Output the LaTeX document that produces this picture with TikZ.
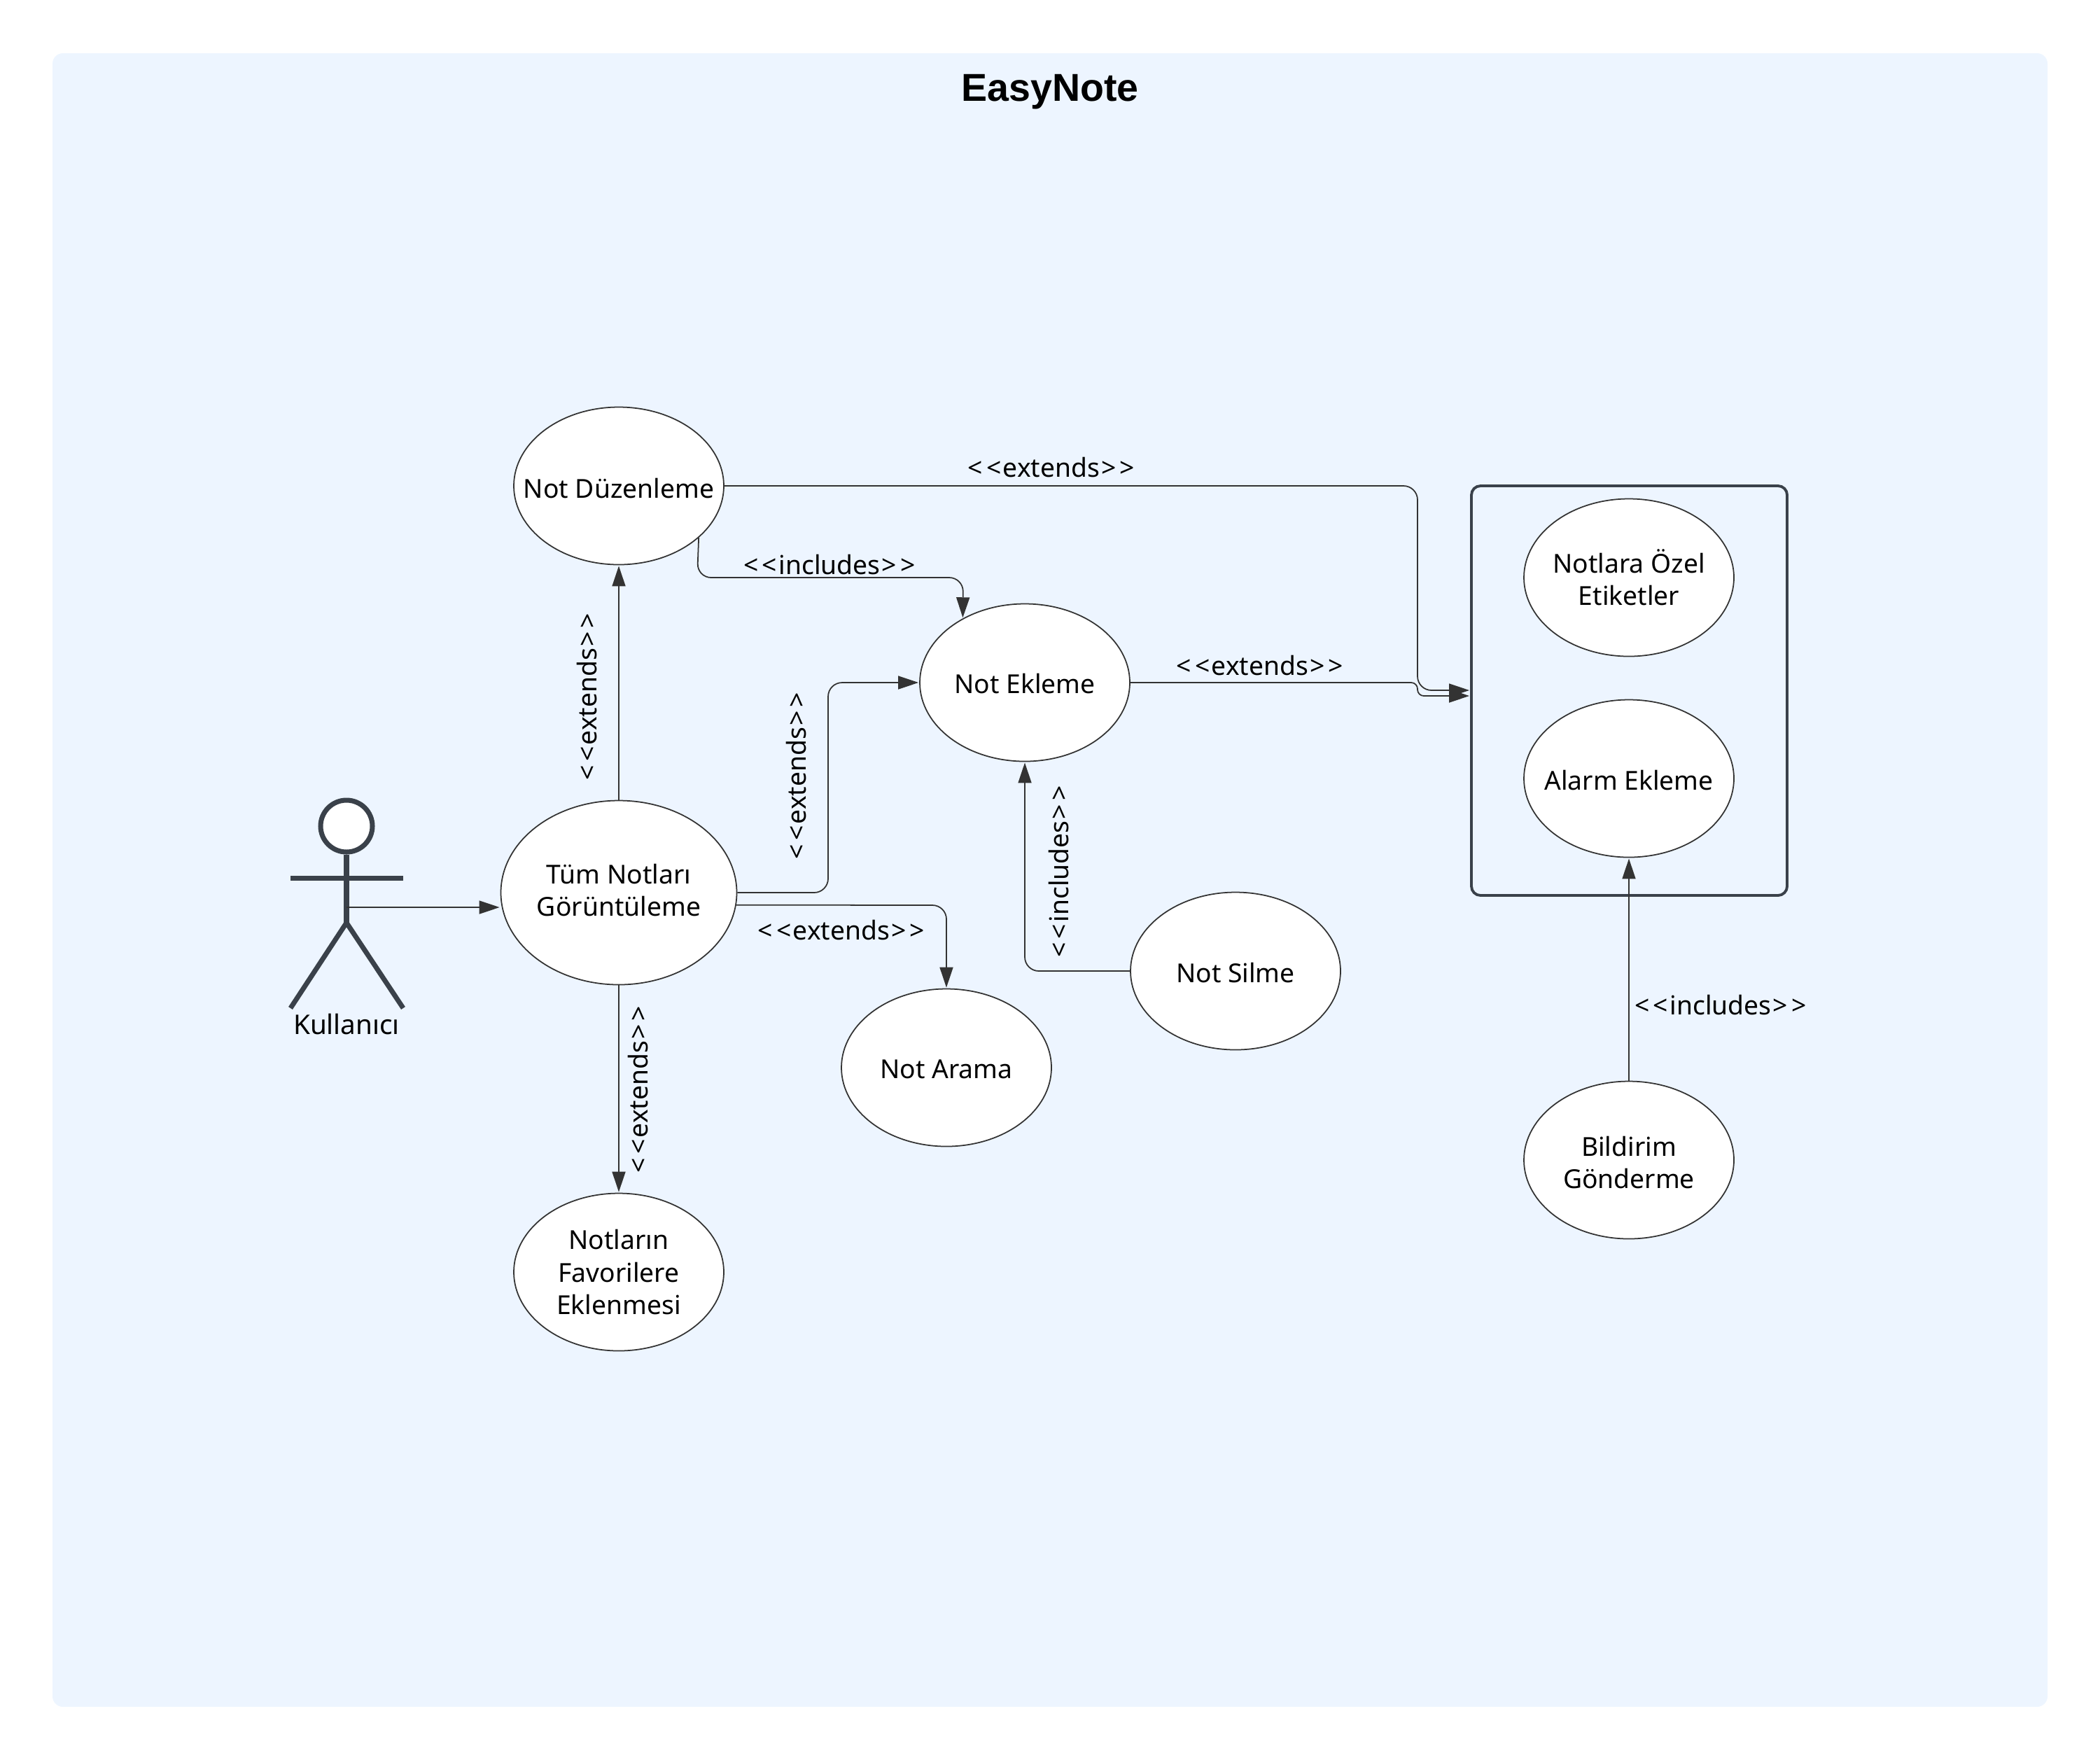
\documentclass[tikz,border=0pt]{standalone}
\usepackage{fontspec}
\setmainfont{Noto Sans}
\newfontfamily\titlefont{Liberation Sans}
\usetikzlibrary{shapes.geometric,arrows.meta}
\definecolor{panelblue}{HTML}{EDF5FF}
\definecolor{linegray}{HTML}{333333}
\definecolor{actorgray}{HTML}{3A414A}
\newcommand{\stereo}[1]{<\kern1.4pt<\kern0.7pt#1\kern0.7pt>\kern1.4pt>}
\newcommand{\lift}[1]{\rule{0pt}{#1}}
\tikzset{
  usecase/.style={ellipse,draw=linegray,fill=white,line width=0.5pt,minimum width=3cm,minimum height=2.25cm,inner xsep=-8mm,inner ysep=-4mm,align=center,font=\fontsize{10.6pt}{13.1pt}\selectfont},
  conn/.style={draw=linegray,line width=0.5pt,rounded corners=2mm,shorten >=0.1mm,-{Triangle[length=2.9mm,width=1.9mm]}},
  lbl/.style={inner sep=0pt,font=\fontsize{10.6pt}{13.1pt}\selectfont},
  stick/.style={draw=actorgray,line width=2pt}
}
\begin{document}
\begin{tikzpicture}
\useasboundingbox (0,0) rectangle (30,-25.13);
\fill[panelblue,rounded corners=1.5mm] (0.75,-0.76) rectangle (29.25,-24.38);
\node (title) at (15,-1.31) {\fontsize{15.8pt}{18pt}\selectfont\titlefont\bfseries EasyNote};
% group on the right
\node (grp) [draw=actorgray,line width=1.1pt,rounded corners=1.3mm,minimum width=4.51cm,minimum height=5.85cm] at (23.275,-9.865) {};
% use cases
\node[usecase] (duz) at (8.84,-6.94) {\lift{3.5mm}Not Düzenleme};
\node[usecase,minimum width=3.37cm,minimum height=2.63cm] (tum) at (8.84,-12.75) {Tüm Notları\\Görüntüleme\rule[-0.76mm]{0pt}{0pt}};
\node[usecase] (eklm) at (14.64,-9.75) {\lift{3.1mm}Not Ekleme};
\node[usecase] (slm) at (17.65,-13.87) {\lift{3.25mm}Not Silme};
\node[usecase] (ara) at (13.52,-15.25) {\lift{3.1mm}Not Arama};
\node[usecase] (fav) at (8.84,-18.17) {Notların\\Favorilere\\Eklenmesi};
\node[usecase] (etk) at (23.27,-8.25) {Notlara Özel\\Etiketler};
\node[usecase] (alrm) at (23.27,-11.12) {\lift{3.25mm}Alarm Ekleme};
\node[usecase] (bld) at (23.27,-16.57) {\lift{3.6mm}Bildirim\\Gönderme};
% actor
\draw[stick] (4.95,-12.21) -- (4.95,-13.18);
\draw[stick] (4.15,-12.54) -- (5.76,-12.54);
\draw[stick,line join=round] (4.15,-14.4) -- (4.95,-13.18) -- (5.76,-14.4);
\node (head) [circle,draw=actorgray,fill=white,line width=2pt,minimum size=0.74cm,inner sep=0pt] at (4.95,-11.8) {};
\node[lbl,font=\fontsize{11pt}{13pt}\selectfont] (usr) at (4.95,-14.63) {Kullanıcı};
\coordinate (hip) at (4.95,-12.96);
% connectors
\draw[conn] (hip) -- (hip -| tum.west);
\draw[conn] (tum.north) -- (duz.south);
\draw[conn] (tum.south) -- (fav.north);
\draw[conn] (tum.east) -- (11.83,-12.75) -- (11.83,-9.75) -- (eklm.west);
\draw[conn] (tum.-6) -- (13.52,-12.93) -- (ara.north);
\draw[conn] (duz.-33.7) -- (9.96,-8.25) -- (13.76,-8.25) -- (eklm.134);
\draw[conn] (slm.west) -- (14.64,-13.87) -- (eklm.south);
\draw[conn] (duz.east) -- (20.25,-6.94) -- (20.25,-9.86) -- (grp.west |- 0,-9.86);
\draw[conn,rounded corners=0.9mm] (eklm.east) -- (20.25,-9.75) -- (20.25,-9.94) -- (grp.west |- 0,-9.94);
\draw[conn] (bld.north) -- (alrm.south);
% labels
\node[lbl] (l1) at (15.02,-6.68) {\stereo{extends}};
\node[lbl] (l2) at (11.85,-8.07) {\stereo{includes}};
\node[lbl] (l3) at (18,-9.51) {\stereo{extends}};
\node[lbl] (l4) at (12.02,-13.28) {\stereo{extends}};
\node[lbl] (l5) at (24.58,-14.35) {\stereo{includes}};
\node[lbl,rotate=90] (l6) at (8.39,-9.95) {\stereo{extends}};
\node[lbl,rotate=90] (l7) at (11.38,-11.08) {\stereo{extends}};
\node[lbl,rotate=90] (l8) at (15.13,-12.45) {\stereo{includes}};
\node[lbl,rotate=90] (l9) at (9.12,-15.56) {\stereo{extends}};
\end{tikzpicture}
\end{document}
